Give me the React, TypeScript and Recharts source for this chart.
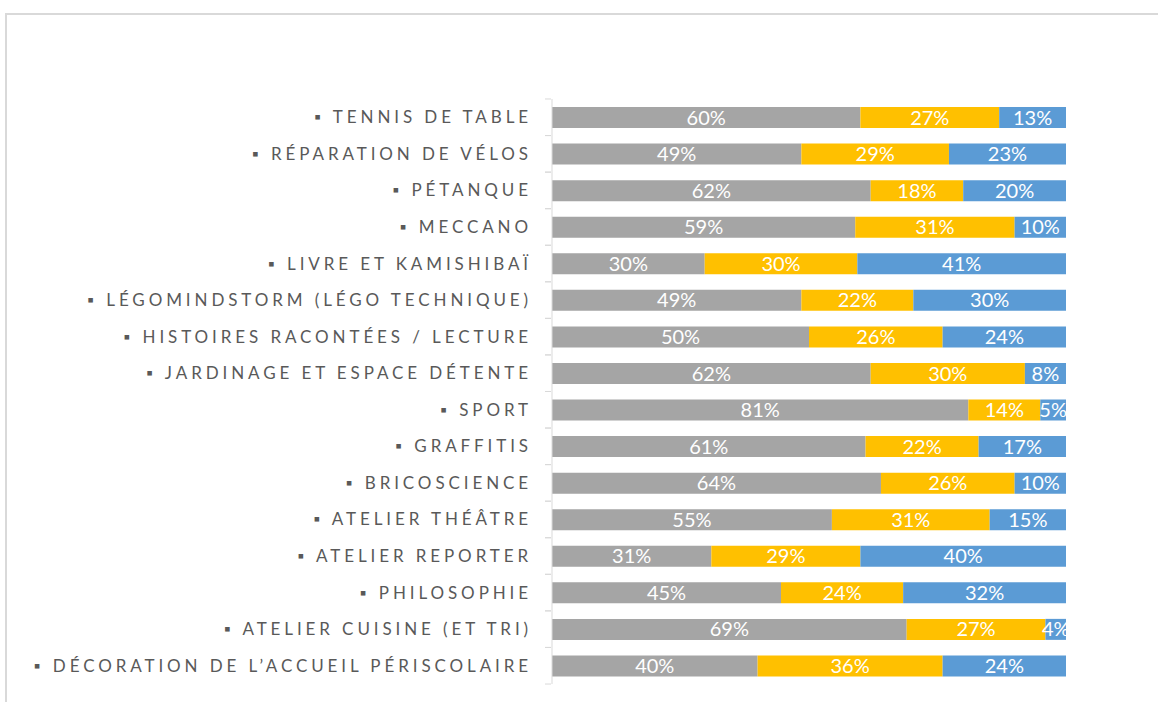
import { BarChart, Bar, XAxis, YAxis, LabelList } from 'recharts'

const categories = [
  'TENNIS DE TABLE',
  'RÉPARATION DE VÉLOS',
  'PÉTANQUE',
  'MECCANO',
  'LIVRE ET KAMISHIBAÏ',
  'LÉGOMINDSTORM (LÉGO TECHNIQUE)',
  'HISTOIRES RACONTÉES / LECTURE',
  'JARDINAGE ET ESPACE DÉTENTE',
  'SPORT',
  'GRAFFITIS',
  'BRICOSCIENCE',
  'ATELIER THÉÂTRE',
  'ATELIER REPORTER',
  'PHILOSOPHIE',
  'ATELIER CUISINE (ET TRI)',
  'DÉCORATION DE L\u2019ACCUEIL PÉRISCOLAIRE',
]

const grayValues = [60, 49, 62, 59, 30, 49, 50, 62, 81, 61, 64, 55, 31, 45, 69, 40]
const yellowValues = [27, 29, 18, 31, 30, 22, 26, 30, 14, 22, 26, 31, 29, 24, 27, 36]
const blueValues = [13, 23, 20, 10, 41, 30, 24, 8, 5, 17, 10, 15, 40, 32, 4, 24]

const data = categories.map((name, i) => ({
  name,
  gray: grayValues[i],
  yellow: yellowValues[i],
  blue: blueValues[i],
}))

const BAND = 36.6

function CategoryTick(props: any) {
  const { x, y, payload } = props
  return (
    <g>
      <line x1={x + 1} x2={x + 7} y1={y - BAND / 2} y2={y - BAND / 2} stroke="#d9d9d9" />
      <line x1={x + 1} x2={x + 7} y1={y + BAND / 2} y2={y + BAND / 2} stroke="#d9d9d9" />
      <text
        x={x - 12}
        y={y}
        dy={6}
        textAnchor="end"
        fill="#595959"
        fontSize={17}
        letterSpacing={3.9}
        fontFamily="Lato, sans-serif"
      >
        {'\u25AA ' + payload.value}
      </text>
    </g>
  )
}

const pct = (v: any) => `${v}%`

export default function App() {
  return (
    <div style={{ position: 'absolute', left: 0, top: 0, width: 1158, height: 702, background: '#fff', overflow: 'hidden' }}>
      <div
        style={{
          position: 'absolute',
          left: 5,
          top: 13,
          width: 1200,
          height: 750,
          border: '2px solid #d9d9d9',
          boxSizing: 'border-box',
        }}
      />
      <BarChart
        width={1158}
        height={702}
        data={data}
        layout="vertical"
        stackOffset="expand"
        barSize={21}
        margin={{ top: 99, right: 92, bottom: 18, left: 12 }}
        style={{ position: 'absolute', left: 0, top: 0 }}
      >
        <XAxis type="number" domain={[0, 1]} hide />
        <YAxis
          type="category"
          dataKey="name"
          width={540}
          axisLine={{ stroke: '#d9d9d9' }}
          tickLine={false}
          tick={<CategoryTick />}
          interval={0}
        />
        <Bar dataKey="gray" stackId="a" fill="#A5A5A5" isAnimationActive={false}>
          <LabelList dataKey="gray" position="center" formatter={pct} fill="#fff" fontSize={20} fontFamily="Lato, sans-serif" />
        </Bar>
        <Bar dataKey="yellow" stackId="a" fill="#FFC000" isAnimationActive={false}>
          <LabelList dataKey="yellow" position="center" formatter={pct} fill="#fff" fontSize={20} fontFamily="Lato, sans-serif" />
        </Bar>
        <Bar dataKey="blue" stackId="a" fill="#5B9BD5" isAnimationActive={false}>
          <LabelList dataKey="blue" position="center" formatter={pct} fill="#fff" fontSize={20} fontFamily="Lato, sans-serif" />
        </Bar>
      </BarChart>
    </div>
  )
}
